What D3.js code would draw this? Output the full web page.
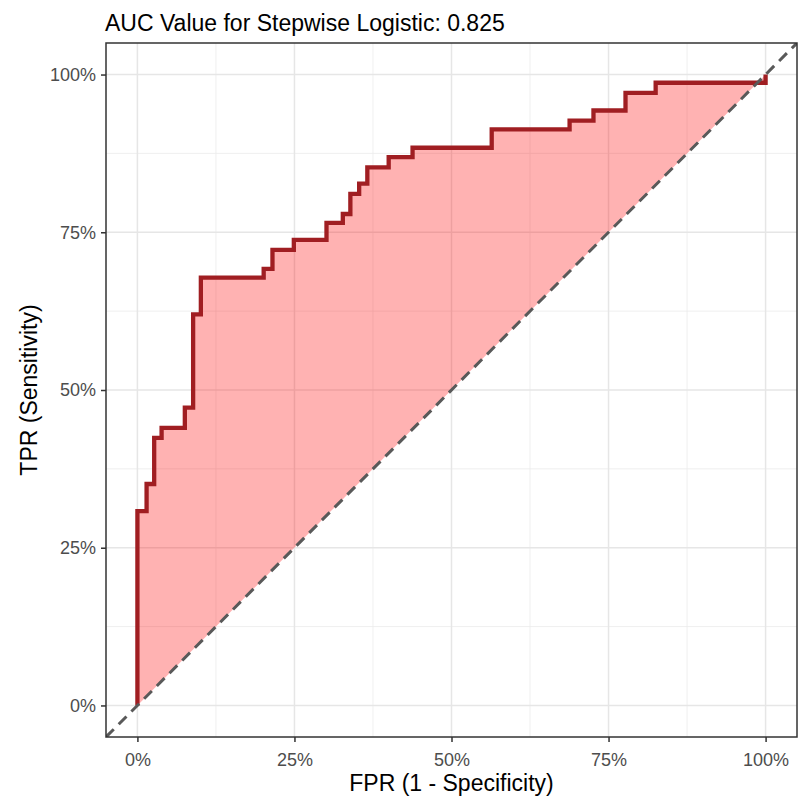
<!DOCTYPE html>
<html>
<head>
<meta charset="utf-8">
<script src="https://cdn.jsdelivr.net/npm/d3@7"></script>
<style>
  body { margin: 0; background: #fff; }
  svg text { font-family: "Liberation Sans", Arial, sans-serif; }
</style>
</head>
<body>
<svg id="chart"></svg>
<script>
// ROC corner points (step-before)
const fpr = [0, 0.0146, 0.0267, 0.0385, 0.0755, 0.0887, 0.101, 0.201, 0.215, 0.249, 0.301, 0.327,
             0.339, 0.353, 0.366, 0.400, 0.438, 0.564, 0.688, 0.726, 0.777, 0.825, 1, 1];
const tpr = [0, 0.308, 0.351, 0.424, 0.440, 0.472, 0.620, 0.678, 0.692, 0.722, 0.738, 0.765,
             0.779, 0.811, 0.827, 0.853, 0.869, 0.884, 0.913, 0.927, 0.943, 0.971, 0.987, 1];
const majorTicks = [0, 0.25, 0.5, 0.75, 1];
const minorTicks = [0.125, 0.375, 0.625, 0.875];
const titleText = "AUC Value for Stepwise Logistic: 0.825";
const xTitle = "FPR (1 - Specificity)";
const yTitle = "TPR (Sensitivity)";

const width = 807, height = 798;
const margin = { top: 43, right: 10, bottom: 61, left: 106 };
const innerW = width - margin.left - margin.right;
const innerH = height - margin.top - margin.bottom;

const svg = d3.select("#chart").attr("width", width).attr("height", height);
const chart = svg.append("g").attr("transform", `translate(${margin.left},${margin.top})`);

// ggplot-style 5% expansion
const xScale = d3.scaleLinear().domain([-0.05, 1.05]).range([0, innerW]);
const yScale = d3.scaleLinear().domain([-0.05, 1.05]).range([innerH, 0]);

svg.append("defs").append("clipPath").attr("id", "panel")
  .append("rect").attr("width", innerW).attr("height", innerH);

// grid lines
const grid = chart.append("g");
minorTicks.forEach(t => {
  grid.append("line").attr("x1", xScale(t)).attr("x2", xScale(t)).attr("y1", 0).attr("y2", innerH)
    .attr("stroke", "#ebebeb").attr("stroke-width", 0.8);
  grid.append("line").attr("y1", yScale(t)).attr("y2", yScale(t)).attr("x1", 0).attr("x2", innerW)
    .attr("stroke", "#ebebeb").attr("stroke-width", 0.8);
});
majorTicks.forEach(t => {
  grid.append("line").attr("x1", xScale(t)).attr("x2", xScale(t)).attr("y1", 0).attr("y2", innerH)
    .attr("stroke", "#e6e6e6").attr("stroke-width", 1.5);
  grid.append("line").attr("y1", yScale(t)).attr("y2", yScale(t)).attr("x1", 0).attr("x2", innerW)
    .attr("stroke", "#e6e6e6").attr("stroke-width", 1.5);
});

// expand step corners so the ribbon can follow the curve
const steps = [{ x: fpr[0], y: tpr[0] }];
for (let i = 1; i < fpr.length; i++) {
  steps.push({ x: fpr[i - 1], y: tpr[i] });
  steps.push({ x: fpr[i], y: tpr[i] });
}

const area = d3.area()
  .x(d => xScale(d.x))
  .y0(d => yScale(d.x))
  .y1(d => yScale(d.y));

const plot = chart.append("g").attr("clip-path", "url(#panel)");

plot.append("path")
  .datum(steps)
  .attr("d", area)
  .attr("fill", "#ff0000")
  .attr("fill-opacity", 0.3);

plot.append("path")
  .datum(steps)
  .attr("d", d3.line().x(d => xScale(d.x)).y(d => yScale(d.y)))
  .attr("fill", "none")
  .attr("stroke", "#a01e22")
  .attr("stroke-width", 4.3)
  .attr("stroke-linejoin", "miter");

// diagonal reference line
plot.append("line")
  .attr("x1", xScale(-0.05)).attr("y1", yScale(-0.05))
  .attr("x2", xScale(1.05)).attr("y2", yScale(1.05))
  .attr("stroke", "#595959")
  .attr("stroke-width", 3)
  .attr("stroke-dasharray", "11,7");

// panel border
chart.append("rect").attr("width", innerW).attr("height", innerH)
  .attr("fill", "none").attr("stroke", "#333333").attr("stroke-width", 1.5);

// axes
const fmt = d3.format(".0%");
const xAxis = d3.axisBottom(xScale).tickValues(majorTicks).tickFormat(fmt).tickSize(5).tickPadding(11);
const yAxis = d3.axisLeft(yScale).tickValues(majorTicks).tickFormat(fmt).tickSize(5).tickPadding(5);

const xAxisG = chart.append("g").attr("transform", `translate(0,${innerH})`).call(xAxis);
const yAxisG = chart.append("g").call(yAxis);
[xAxisG, yAxisG].forEach(g => {
  g.select(".domain").remove();
  g.selectAll(".tick line").attr("stroke", "#333333").attr("stroke-width", 1.5);
  g.selectAll(".tick text").attr("fill", "#4d4d4d").style("font-size", "18px")
    .style("font-family", "'Liberation Sans', Arial, sans-serif");
});

// titles
svg.append("text")
  .attr("x", margin.left - 1).attr("y", 31)
  .attr("fill", "#000").style("font-size", "23px")
  .text(titleText);

svg.append("text")
  .attr("x", margin.left + innerW / 2).attr("y", 791)
  .attr("text-anchor", "middle")
  .attr("fill", "#000").style("font-size", "23px")
  .text(xTitle);

svg.append("text")
  .attr("transform", `translate(37,${margin.top + innerH / 2}) rotate(-90)`)
  .attr("text-anchor", "middle")
  .attr("fill", "#000").style("font-size", "23px")
  .text(yTitle);
</script>
</body>
</html>
